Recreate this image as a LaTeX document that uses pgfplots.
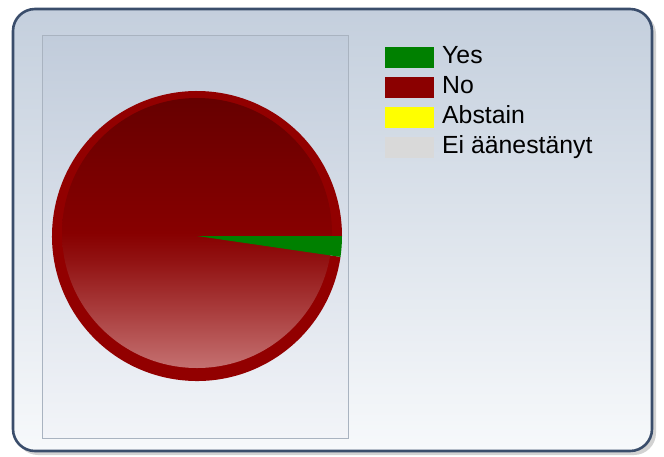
\documentclass[border=0pt]{standalone}
\usepackage{pgfplots}
\pgfplotsset{compat=1.18}
\usepackage{pgfplotstable}
\usepackage{fontspec}
\setmainfont{Liberation Sans}

\definecolor{framecol}{HTML}{3A4D6B}
\definecolor{bgtop}{HTML}{C4CFDD}
\definecolor{bgbot}{HTML}{F7F9FB}
\definecolor{paneltop}{HTML}{C1CCDB}
\definecolor{panelbot}{HTML}{F2F4F8}
\definecolor{panelline}{HTML}{A9B3C0}
\definecolor{yescol}{HTML}{008000}
\definecolor{nocol}{HTML}{8B0000}
\definecolor{rimcol}{HTML}{920000}
\definecolor{abstcol}{HTML}{FFFF00}
\definecolor{eicol}{HTML}{D9D9D9}

% bottom of the disk at 25bp, top at 75bp
\pgfdeclareverticalshading{pieinner}{100bp}{%
	rgb(0bp)=(0.77,0.44,0.44);
	rgb(25bp)=(0.77,0.44,0.44);
	rgb(35bp)=(0.67,0.25,0.25);
	rgb(45bp)=(0.57,0.07,0.07);
	rgb(50bp)=(0.53,0,0);
	rgb(62bp)=(0.47,0,0);
	rgb(75bp)=(0.40,0,0);
	rgb(100bp)=(0.40,0,0)}

% votes, in percent
\pgfplotstableread{
label   value
Yes     2.3
No      97.7
Abstain 0
Ei      0
}\votes
\pgfplotstablegetelem{0}{value}\of\votes
\let\yesval\pgfplotsretval
\pgfmathsetmacro\yesang{-3.6*\yesval}

\begin{document}
\begin{tikzpicture}
\begin{axis}[
	width=332pt, height=228pt,
	scale only axis,
	xmin=0, xmax=664, ymin=0, ymax=456,
	y dir=reverse,
	hide axis,
	clip=false,
	legend image code/.code={\fill[#1] (0pt,-5pt) rectangle (24pt,5pt);},
	legend style={
		at={(axis cs:385,45)}, anchor=north west,
		draw=none, fill=none,
		font=\fontsize{12.4pt}{14pt}\selectfont,
		inner sep=0pt, row sep=3pt, column sep=4pt,
		nodes={inner sep=0pt, text height=9pt, text depth=3pt},
	},
	legend cell align=left,
]
% background frame
\path (axis cs:0,0) rectangle (axis cs:664,456);
\fill[gray!35, rounded corners=11pt] (axis cs:16,12) rectangle (axis cs:656,455);
\shadedraw[draw=framecol, line width=1.3pt, rounded corners=11pt,
	top color=bgtop, bottom color=bgbot] (axis cs:13,9) rectangle (axis cs:652,451);
\shadedraw[draw=panelline, line width=0.5pt,
	top color=paneltop, bottom color=panelbot] (axis cs:42,35) rectangle (axis cs:348,438);

% pie: No slice, glossy inner disk, Yes slice
\fill[rimcol] (axis cs:197,236) -- ++(\yesang:72.5pt)
	arc[start angle=\yesang, end angle=-360, radius=72.5pt] -- cycle;
\shade[shading=pieinner] (axis cs:197,233) circle[radius=67.5pt];
\fill[yescol] (axis cs:197,236) -- ++(0:72.5pt)
	arc[start angle=0, end angle=\yesang, radius=72.5pt] -- cycle;

\addlegendimage{yescol}
\addlegendentry{Yes}
\addlegendimage{nocol}
\addlegendentry{No}
\addlegendimage{abstcol}
\addlegendentry{Abstain}
\addlegendimage{eicol}
\addlegendentry{Ei äänestänyt}
\end{axis}
\end{tikzpicture}
\end{document}
